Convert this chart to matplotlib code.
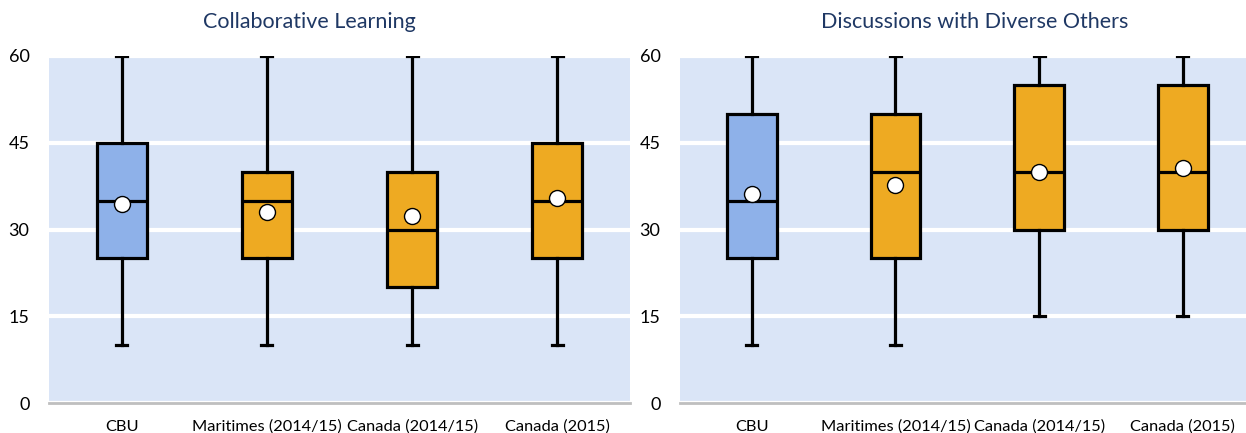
import matplotlib.pyplot as plt

plt.rcParams['font.family'] = ['Lato', 'DejaVu Sans']

categories = ['CBU', 'Maritimes (2014/15)', 'Canada (2014/15)', 'Canada (2015)']
titles = ['Collaborative Learning', 'Discussions with Diverse Others']

# per panel: whisker low, q1, median, q3, whisker high, mean
collab_low = [10, 10, 10, 10]
collab_q1 = [25, 25, 20, 25]
collab_med = [35, 35, 30, 35]
collab_q3 = [45, 40, 40, 45]
collab_high = [60, 60, 60, 60]
collab_mean = [34.4, 33.1, 32.4, 35.4]

divers_low = [10, 10, 15, 15]
divers_q1 = [25, 25, 30, 30]
divers_med = [35, 40, 40, 40]
divers_q3 = [50, 50, 55, 55]
divers_high = [60, 60, 60, 60]
divers_mean = [36.1, 37.7, 40.0, 40.7]

yticks = [0, 15, 30, 45, 60]

bg = '#dae5f7'
box_colors = ['#8eb1e9', '#eeaa22', '#eeaa22', '#eeaa22']
title_color = '#1f3864'


def make_stats(low, q1, med, q3, high, mean):
    stats = []
    for i in range(len(categories)):
        stats.append({'whislo': low[i], 'q1': q1[i], 'med': med[i],
                      'q3': q3[i], 'whishi': high[i], 'mean': mean[i],
                      'label': categories[i]})
    return stats


panels = [
    make_stats(collab_low, collab_q1, collab_med, collab_q3, collab_high, collab_mean),
    make_stats(divers_low, divers_q1, divers_med, divers_q3, divers_high, divers_mean),
]

fig = plt.figure(figsize=(12.46, 4.33), dpi=100)
ax1 = fig.add_axes([49 / 1246, 1 - 403 / 433, 581 / 1246, 347 / 433])
ax2 = fig.add_axes([680 / 1246, 1 - 403 / 433, 566 / 1246, 347 / 433])

lw = 2.3
for ax, stats, xmax in [(ax1, panels[0], 3.5), (ax2, panels[1], 3.44)]:
    ax.set_facecolor(bg)
    bp = ax.bxp(stats, positions=range(4), widths=0.345, capwidths=0.075,
                showmeans=True, patch_artist=True, showfliers=False,
                boxprops=dict(edgecolor='black', linewidth=lw),
                medianprops=dict(color='black', linewidth=lw),
                whiskerprops=dict(color='black', linewidth=lw),
                capprops=dict(color='black', linewidth=lw),
                meanprops=dict(marker='o', markerfacecolor='white',
                               markeredgecolor='black', markersize=11.5,
                               markeredgewidth=1))
    for patch, c in zip(bp['boxes'], box_colors):
        patch.set_facecolor(c)
    for m in bp['means']:
        m.set_zorder(5)

    ax.set_xlim(-0.5, xmax)
    ax.set_ylim(0, 60)
    ax.set_yticks(yticks)
    ax.set_yticklabels([str(t) for t in yticks])
    ax.grid(axis='y', color='white', linewidth=3)
    ax.set_axisbelow(True)
    for s in ['top', 'right', 'left']:
        ax.spines[s].set_visible(False)
    ax.spines['bottom'].set_color('#bfbfbf')
    ax.spines['bottom'].set_linewidth(2)
    ax.tick_params(axis='y', length=0, pad=14, labelsize=13)
    ax.tick_params(axis='x', length=0, pad=12, labelsize=11.8)

fig.text(309 / 1246, 1 - 22 / 433, titles[0], ha='center', va='center',
         fontsize=15.5, color=title_color)
fig.text(975 / 1246, 1 - 22 / 433, titles[1], ha='center', va='center',
         fontsize=15.5, color=title_color)

fig.savefig('out.png', dpi=100)
